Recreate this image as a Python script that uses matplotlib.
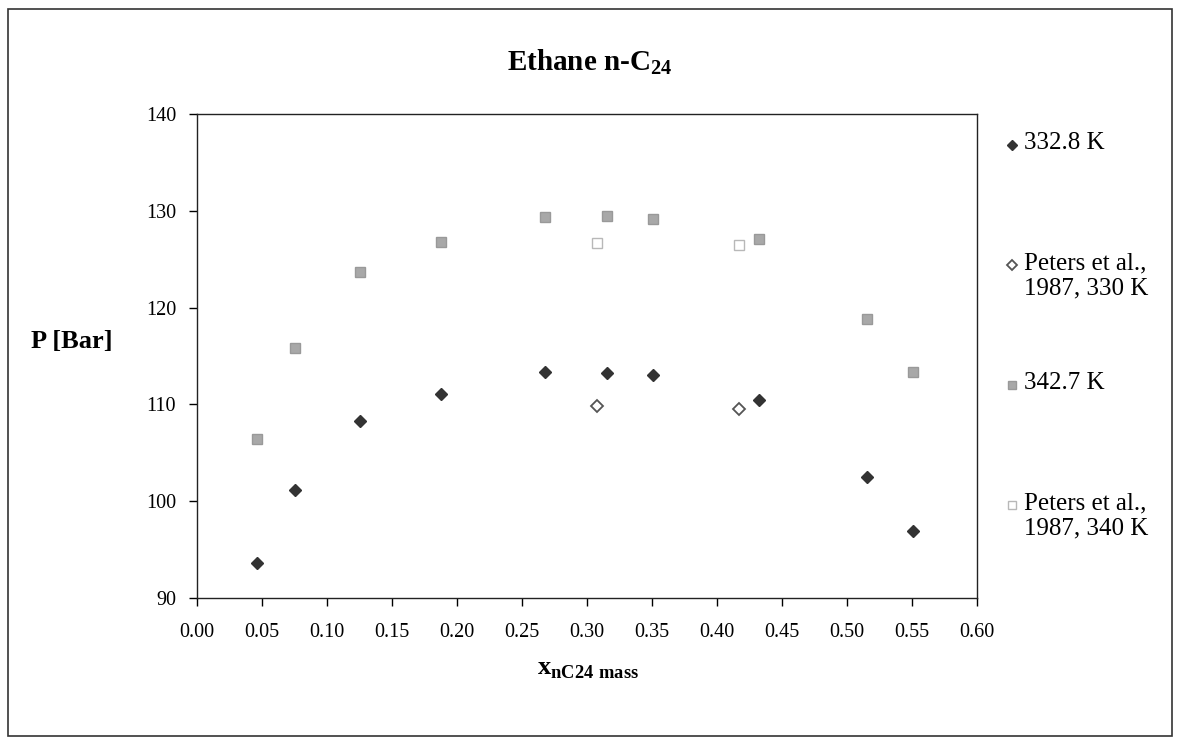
import matplotlib
matplotlib.use("Agg")
from matplotlib import pyplot as plt
from matplotlib.lines import Line2D
from matplotlib.patches import Rectangle

# mass fraction of n-C24 and pressure [bar]
x_sim = [0.046, 0.075, 0.125, 0.188, 0.268, 0.315, 0.351, 0.432, 0.515, 0.551]
p_332 = [93.6, 101.2, 108.3, 111.1, 113.3, 113.2, 113.0, 110.5, 102.5, 96.9]
p_343 = [106.4, 115.8, 123.7, 126.8, 129.4, 129.5, 129.2, 127.1, 118.8, 113.3]

x_peters = [0.308, 0.417]
p_peters_330 = [109.8, 109.5]
p_peters_340 = [126.7, 126.5]

labels = ["332.8 K", "Peters et al.,\n1987, 330 K", "342.7 K", "Peters et al.,\n1987, 340 K"]
xticks = [0.00, 0.05, 0.10, 0.15, 0.20, 0.25, 0.30, 0.35, 0.40, 0.45, 0.50, 0.55, 0.60]
yticks = [90, 100, 110, 120, 130, 140]

plt.rcParams["font.family"] = ["Liberation Serif", "DejaVu Serif"]
plt.rcParams["mathtext.fontset"] = "custom"
plt.rcParams["mathtext.rm"] = "Liberation Serif"
plt.rcParams["mathtext.bf"] = "Liberation Serif:bold"

W, H = 1181, 743
fig = plt.figure(figsize=(W / 100, H / 100), dpi=100)
ax = fig.add_axes([197 / W, 1 - 598 / H, (977 - 197) / W, (598 - 114) / H])

styles = [
    dict(marker="D", ms=6.5, mfc="#333333", mec="#333333"),
    dict(marker="D", ms=6, mfc="white", mec="#555555", mew=1.3),
    dict(marker="s", ms=7.5, mfc="#a8a8a8", mec="#999999"),
    dict(marker="s", ms=7.5, mfc="white", mec="#b8b8b8", mew=1.0),
]

ax.plot(x_sim, p_332, ls="none", **styles[0])
ax.plot(x_peters, p_peters_330, ls="none", **styles[1])
ax.plot(x_sim, p_343, ls="none", **styles[2])
ax.plot(x_peters, p_peters_340, ls="none", **styles[3])

ax.set_xlim(0, 0.6)
ax.set_ylim(90, 140)
ax.set_xticks(xticks)
ax.set_xticklabels(["%.2f" % t for t in xticks])
ax.set_yticks(yticks)
ax.tick_params(axis="x", direction="out", length=6, pad=12, labelsize=14.5, width=1)
ax.tick_params(axis="y", direction="out", length=6, pad=9, labelsize=14.5, width=1)
for s in ax.spines.values():
    s.set_color("#222222")
    s.set_linewidth(1)

fig.text(590 / W, 1 - 62 / H, r"Ethane n-C$_{\mathbf{24}}$", ha="center", va="center",
         fontsize=21, fontweight="bold")
fig.text(72 / W, 1 - 342 / H, "P [Bar]", ha="center", va="center", fontsize=19, fontweight="bold")
fig.text(588 / W, 1 - 670 / H, r"$\mathbf{x}_{\mathbf{nC24\ mass}}$", ha="center", va="center",
         fontsize=19)

# legend drawn at the right
leg_y = [145, 265, 385, 505]
for st, lab, yy in zip(styles, labels, leg_y):
    fig.add_artist(Line2D([1012 / W], [1 - yy / H], transform=fig.transFigure, ls="none",
                          **dict(st, ms=st["ms"] * 0.8)))
    fig.text(1024 / W, 1 - (yy - 13) / H, lab, ha="left", va="top", fontsize=18, linespacing=1.2)

fig.add_artist(Rectangle((8 / W, 1 - 736 / H), (1172 - 8) / W, (736 - 9) / H,
                         transform=fig.transFigure, fill=False, ec="#333333", lw=1.2))

fig.savefig("out.png", dpi=100, facecolor="white")
